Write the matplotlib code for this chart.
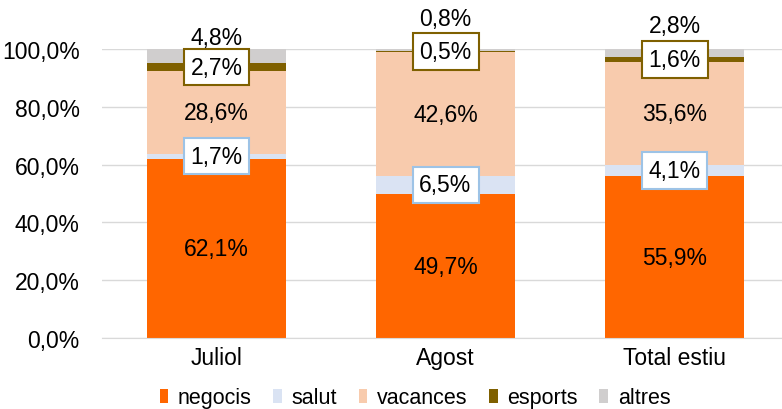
import numpy as np
from matplotlib import pyplot as plt

plt.rcParams['font.family'] = ['Liberation Sans Narrow', 'Liberation Sans', 'DejaVu Sans']

categories = ["Juliol", "Agost", "Total estiu"]
series = ["negocis", "salut", "vacances", "esports", "altres"]
negocis = [62.1, 49.7, 55.9]
salut = [1.7, 6.5, 4.1]
vacances = [28.6, 42.6, 35.6]
esports = [2.7, 0.5, 1.6]
altres = [4.8, 0.8, 2.8]
yticks = [0, 20, 40, 60, 80, 100]

colors = ["#FF6600", "#DAE3F3", "#F8CBAD", "#7F6000", "#D0CECE"]
# where the "altres" labels sit above the bars (manual in the original)
altres_label_y = [104.0, 110.5, 108.0]
fs = 16.5

def fmt(v):
    return ("%.1f%%" % v).replace(".", ",")

fig = plt.figure(figsize=(7.82, 4.10), dpi=100)
ax = fig.add_axes([102/782, 1-339/410, 687/782, 289/410])
ax.set_xlim(-0.5, 2.5)
ax.set_ylim(0, 100)

x = np.arange(len(categories))
width = 0.607
bottom = np.zeros(len(categories))
data = [negocis, salut, vacances, esports, altres]
for name, vals, col in zip(series, data, colors):
    vals = np.array(vals)
    ax.bar(x, vals, width, bottom=bottom, color=col, label=name, zorder=2)
    for i, v in enumerate(vals):
        mid = bottom[i] + v/2
        if name in ("negocis", "vacances"):
            ax.text(x[i], mid, fmt(v), ha="center", va="center", fontsize=fs, zorder=4)
        elif name == "salut":
            ax.text(x[i], mid, fmt(v), ha="center", va="center", fontsize=fs, zorder=4,
                    bbox=dict(boxstyle="square,pad=0.3", fc="white", ec="#9DC3E6", lw=1.5))
        elif name == "esports":
            ax.text(x[i], mid, fmt(v), ha="center", va="center", fontsize=fs, zorder=4,
                    bbox=dict(boxstyle="square,pad=0.3", fc="white", ec="#7F6000", lw=1.5))
        else:
            ax.text(x[i], altres_label_y[i], fmt(v), ha="center", va="center", fontsize=fs,
                    zorder=4, clip_on=False)
    bottom += vals

ax.set_yticks(yticks)
ax.set_yticklabels([fmt(t) for t in yticks], fontsize=fs)
ax.set_xticks(x)
ax.set_xticklabels(categories, fontsize=fs)
ax.tick_params(axis="both", length=0)
ax.tick_params(axis="y", pad=16)
ax.tick_params(axis="x", pad=6)
ax.yaxis.grid(True, color="#D9D9D9", lw=1, zorder=0)
ax.set_axisbelow(True)
for s in ["top", "right", "left"]:
    ax.spines[s].set_visible(False)
ax.spines["bottom"].set_color("#D9D9D9")

fig.legend(loc="center", bbox_to_anchor=(415/782, 1-399/410), ncol=5, frameon=False,
           fontsize=15.5, handlelength=0.4, handleheight=0.6, handletextpad=0.45,
           columnspacing=1.0)

plt.savefig("out.png", dpi=100)
